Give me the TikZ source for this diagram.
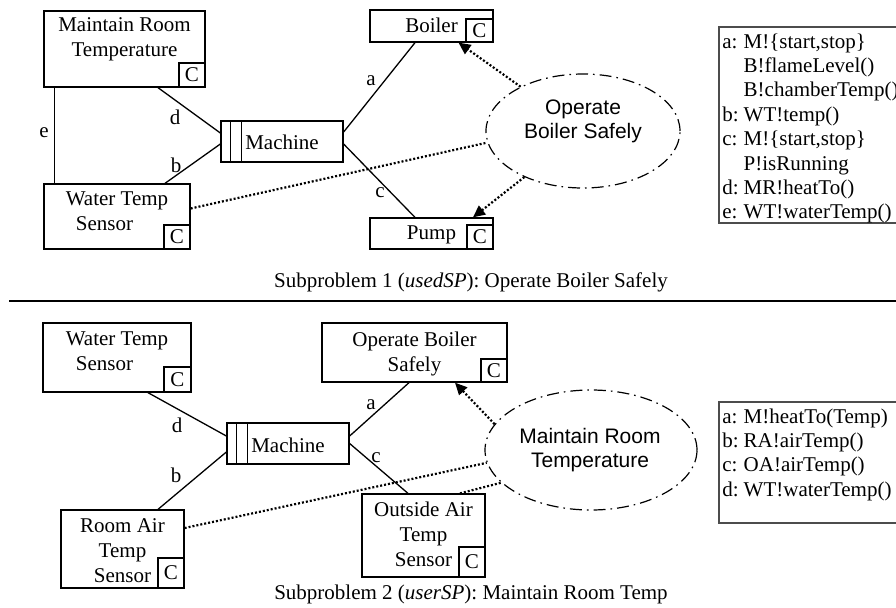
\documentclass[tikz,border=0pt]{standalone}
\usepackage{fontspec}
\setmainfont{Liberation Serif}
\setsansfont{Liberation Sans}
\usetikzlibrary{positioning,fit,shapes.geometric,arrows.meta}

\tikzset{
  dom/.style={draw, inner sep=0pt, line width=0.65pt},
  cbox/.style={draw, inner sep=0pt, line width=0.65pt, minimum width=13pt, minimum height=12pt, anchor=south east},
  dtext/.style={align=center, inner sep=0pt},
  req/.style={draw, ellipse, inner sep=0pt, line width=0.6pt, dash pattern=on 6pt off 2.5pt on 0.8pt off 2.5pt},
  reqtext/.style={align=center, inner sep=0pt, font=\sffamily\fontsize{10.5}{12}\selectfont},
  iface/.style={line width=0.65pt},
  refs/.style={line width=1.1pt, dash pattern=on 1pt off 1pt},
  cons/.style={refs, -{Triangle[length=6pt,width=5.5pt]}},
  lbl/.style={inner sep=0pt},
  legend/.style={draw=black!70, inner sep=0pt, line width=0.6pt},
  legtext/.style={anchor=base west, inner sep=0pt, font=\fontsize{10.5}{12.2}\selectfont},
}

\begin{document}
\begin{tikzpicture}[x=0.5pt, y=-0.5pt, font=\fontsize{10.5}{12.5}\selectfont]
\useasboundingbox (0,0) rectangle (896,607);
\clip (0,0) rectangle (896,607);

% Subproblem 1
\node[dom, fit={(44,11) (205,87)}] (mrt1) {};
\node[cbox] (mrt1c) at (mrt1.south east) {C};
\node[dtext, below=3.5pt of mrt1.north] (mrt1t) {Maintain Room\\Temperature};

\node[dom, fit={(44,184) (190,249)}] (wts1) {};
\node[cbox] (wts1c) at (wts1.south east) {C};
\node[dtext, below=4pt of wts1.north] (wts1t) {Water Temp\\Sensor\hspace*{12.5pt}};

\node[dom, fit={(221,121) (343,162)}] (m1) {};
\node[anchor=base] (m1t) at ([yshift=-3.75pt]m1.center) {Machine};
\draw[iface] ([xshift=5pt]m1.north west) -- ([xshift=5pt]m1.south west);
\draw[iface] ([xshift=10.5pt]m1.north west) -- ([xshift=10.5pt]m1.south west);

\node[dom, fit={(370,10) (493,42)}] (boil1) {};
\node[anchor=base] (boil1t) at ([yshift=-3pt]boil1.center) {Boiler};
\node[cbox, minimum width=13.5pt, minimum height=11.5pt] (boil1c) at (boil1.south east) {C};

\node[dom, fit={(370,218) (493,249)}] (pump1) {};
\node[anchor=base] (pump1t) at ([yshift=-2.75pt]pump1.center) {Pump};
\node[cbox] (pump1c) at (pump1.south east) {C};

\node[req, minimum width=97pt, minimum height=57pt] (os1) at (583,131) {};
\node[reqtext] (os1t) at (583,121) {Operate\\Boiler Safely};

\draw[iface] ([xshift=16.75pt]mrt1.south) -- ([yshift=4.25pt]m1.west);
\draw[iface] ([xshift=24pt]wts1.north) -- ([yshift=-1.25pt]m1.west);
\draw[iface] ([xshift=5.5pt]mrt1.south west) -- ([xshift=5.5pt]wts1.north west);
\draw[iface] ([yshift=4.75pt]m1.east) -- ([xshift=-8.25pt]boil1.south);
\draw[iface] ([yshift=-1.25pt]m1.east) -- ([xshift=-8.25pt]pump1.north);

\node[lbl] (ld1) at (175,117) {d};
\node[lbl] (lb1) at (176,165) {b};
\node[lbl] (le1) at (44,133) {e};
\node[lbl] (la1) at (371,81) {a};
\node[lbl] (lc1) at (380,193) {c};

\draw[refs] ([yshift=4pt]wts1.east) -- ([yshift=-6pt]os1.west);
\draw[cons] (os1) -- ([xshift=13.5pt]boil1.south);
\draw[cons] (os1) -- ([xshift=20.75pt]pump1.north);

\node[anchor=base] (cap1) at (471,287) {Subproblem 1 (\textit{usedSP}): Operate Boiler Safely};

\node[legend, fit={(719,27) (905,223)}] (leg1) {};
\node[legtext] (leg1t) at (722,48) {%
  \begin{tabular}[t]{@{}l@{\hspace{2.5pt}}l@{}}
  a: & M!\{start,stop\}\\
     & B!flameLevel()\\
     & B!chamberTemp()\\
  b: & WT!temp()\\
  c: & M!\{start,stop\}\\
     & P!isRunning\\
  d: & MR!heatTo()\\
  e: & WT!waterTemp()
  \end{tabular}};

\draw[line width=0.65pt] (9,301) -- (896,301);

% Subproblem 2
\node[dom, fit={(43,323) (191,392)}] (wts2) {};
\node[cbox, minimum width=13.5pt, minimum height=12.5pt] (wts2c) at (wts2.south east) {C};
\node[dtext, below=4.5pt of wts2.north] (wts2t) {Water Temp\\Sensor\hspace*{12.5pt}};

\node[dom, fit={(322,323) (507,382)}] (obs2) {};
\node[cbox, minimum height=11.5pt] (obs2c) at (obs2.south east) {C};
\node[dtext, below=4.5pt of obs2.north] (obs2t) {Operate Boiler\\Safely};

\node[dom, fit={(227,423) (349,464)}] (m2) {};
\node[anchor=base] (m2t) at ([yshift=-4.5pt]m2.center) {Machine};
\draw[iface] ([xshift=5pt]m2.north west) -- ([xshift=5pt]m2.south west);
\draw[iface] ([xshift=10.5pt]m2.north west) -- ([xshift=10.5pt]m2.south west);

\node[dom, fit={(61,510) (184,588)}] (rats2) {};
\node[cbox, minimum height=15pt] (rats2c) at (rats2.south east) {C};
\node[dtext, below=4.5pt of rats2.north] (rats2t) {Room Air\\Temp\\Sensor};

\node[dom, fit={(362,494) (485,577)}] (oats2) {};
\node[cbox, minimum height=15pt] (oats2c) at (oats2.south east) {C};
\node[dtext, below=4pt of oats2.north] (oats2t) {Outside Air\\Temp\\Sensor};

\node[req, minimum width=106pt, minimum height=60pt] (mr2) at (591,450) {};
\node[reqtext] (mr2t) at (590,450) {Maintain Room\\Temperature};

\draw[iface] ([xshift=15.5pt]wts2.south) -- ([yshift=3.75pt]m2.west);
\draw[iface] ([xshift=17.75pt]rats2.north) -- ([yshift=-4.25pt]m2.west);
\draw[iface] ([yshift=3.75pt]m2.east) -- ([xshift=-2.75pt]obs2.south);
\draw[iface] (m2.east) -- ([xshift=-7.75pt]oats2.north);

\node[lbl] (ld2) at (177,425) {d};
\node[lbl] (lb2) at (176,475) {b};
\node[lbl] (la2) at (371,405) {a};
\node[lbl] (lc2) at (376,458) {c};

\draw[refs] ([yshift=10.5pt]rats2.east) -- (mr2.187);
\draw[refs] ([xshift=18.25pt]oats2.north) -- (mr2.200);
\draw[cons] (mr2.165) -- ([xshift=20.25pt]obs2.south);

\node[anchor=base] (cap2) at (471,599) {Subproblem 2 (\textit{userSP}): Maintain Room Temp};

\node[legend, fit={(719,402) (905,523)}] (leg2) {};
\node[legtext] (leg2t) at (722,423) {%
  \begin{tabular}[t]{@{}l@{\hspace{2.5pt}}l@{}}
  a: & M!heatTo(Temp)\\
  b: & RA!airTemp()\\
  c: & OA!airTemp()\\
  d: & WT!waterTemp()
  \end{tabular}};
\end{tikzpicture}
\end{document}
